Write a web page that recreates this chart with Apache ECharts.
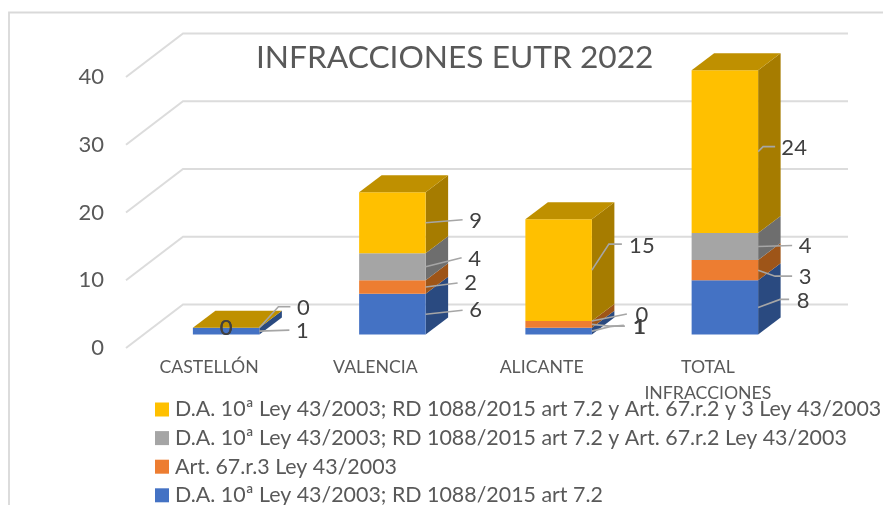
<!DOCTYPE html>
<html>
<head>
<meta charset="utf-8">
<title>INFRACCIONES EUTR 2022</title>
<style>
  html,body {margin:0;padding:0;background:#fff;}
  #chart {width:883px;height:505px;}
</style>
<script src="https://cdn.jsdelivr.net/npm/echarts@6/dist/echarts.min.js"></script>
</head>
<body>
<div id="chart"></div>
<script>
var categories = ['CASTELLÓN', 'VALENCIA', 'ALICANTE', 'TOTAL\nINFRACCIONES'];
var seriesNames = [
  'D.A. 10ª Ley 43/2003; RD 1088/2015 art 7.2',
  'Art. 67.r.3 Ley 43/2003',
  'D.A. 10ª Ley 43/2003; RD 1088/2015 art 7.2 y Art. 67.r.2 Ley 43/2003',
  'D.A. 10ª Ley 43/2003; RD 1088/2015 art 7.2 y Art. 67.r.2 y 3 Ley 43/2003'
];
var blueValues = [1, 6, 1, 8];
var orangeValues = [0, 2, 1, 3];
var grayValues = [0, 4, 0, 4];
var yellowValues = [0, 9, 15, 24];
var yTicks = [0, 10, 20, 30, 40];

// colores de cada cara: frontal, lateral
var frontColors = ['#4472C4', '#ED7D31', '#A5A5A5', '#FFC000'];
var sideColors = ['#2A4A80', '#9E5518', '#6E6E6E', '#A67C00'];
var topColor = '#BF9000';

// perspectiva: pared del fondo y profundidad de la barra
var wallDx = 57, wallDy = -43.5;
var barOffX = 17, barOffY = -13.5;
var barDepthX = 22.5, barDepthY = -17;
var barWidth = 66.5;

// lineas guia de las etiquetas, relativas al centro del tramo en la arista derecha
// [serie][categoria] = {line:[...], text:[dx,dy]}; center = etiqueta centrada en la barra
var leaders = [
  [{line:[[30,-1]],text:[43,0]}, {line:[[37,-4]],text:[50,-4]}, {line:[[20,-5],[33,-5]],text:[47,-4]}, {line:[[22,-8],[31,-8]],text:[45,-6]}],
  [{center:true}, {line:[[32,-4]],text:[45,-4]}, {line:[[20,2],[32,1]],text:[48,3]}, {line:[[17,6],[34,6]],text:[47,7]}],
  [{line:[[19,-21],[31,-21]],text:[44,-20]}, {line:[[36,-9]],text:[49,-8]}, {line:[[35,-7]],text:[50,-6]}, {line:[[34,-1]],text:[47,-1]}],
  [{center:true}, {line:[[37,-3]],text:[50,-2]}, {line:[[17,-26],[30,-26]],text:[50,-24]}, {line:[[5,-5],[17,-5]],text:[36,-4]}]
];

var allValues = [blueValues, orangeValues, grayValues, yellowValues];
var fontName = 'Lato, "Noto Sans", sans-serif';

function stackRows(s) {
  return categories.map(function (c, i) {
    var base = 0;
    for (var k = 0; k < s; k++) base += allValues[k][i];
    return [i, base, base + allValues[s][i]];
  });
}

function renderWall(params, api) {
  var p = api.coord([0, api.value(0)]);
  var grid = params.coordSys;
  var x0 = grid.x, x1 = grid.x + grid.width;
  return {
    type: 'polyline',
    shape: {points: [[x0, p[1]], [x0 + wallDx, p[1] + wallDy], [x1 + wallDx, p[1] + wallDy]]},
    style: {stroke: '#DCDCDC', lineWidth: 2, fill: null}
  };
}

function makeBarRender(s) {
  return function (params, api) {
    var c = api.coord([api.value(0), 0]);
    var low = api.coord([api.value(0), api.value(1)]);
    var high = api.coord([api.value(0), api.value(2)]);
    var xl = c[0] - barWidth / 2 + barOffX, xr = xl + barWidth;
    var yb = low[1] + barOffY, yt = high[1] + barOffY;
    var kids = [];
    kids.push({type: 'polygon', shape: {points: [[xr, yb], [xr + barDepthX, yb + barDepthY], [xr + barDepthX, yt + barDepthY], [xr, yt]]}, style: {fill: sideColors[s]}});
    kids.push({type: 'rect', shape: {x: xl, y: yt, width: barWidth, height: yb - yt}, style: {fill: frontColors[s]}});
    if (s === 3) {
      kids.push({type: 'polygon', shape: {points: [[xl, yt], [xl + barDepthX, yt + barDepthY], [xr + barDepthX, yt + barDepthY], [xr, yt]]}, style: {fill: topColor}});
    }
    return {type: 'group', children: kids};
  };
}

function makeLabelRender(s) {
  return function (params, api) {
    var i = api.value(0);
    var c = api.coord([i, 0]);
    var mid = api.coord([i, (api.value(1) + api.value(2)) / 2]);
    var ax = c[0] - barWidth / 2 + barOffX + barWidth, ay = mid[1] + barOffY;
    var info = leaders[s][i];
    var kids = [];
    var tx, ty;
    if (info.center) {
      tx = c[0] + barOffX;
      ty = ay;
    } else {
      var pts = [[ax, ay]].concat(info.line.map(function (d) { return [ax + d[0], ay + d[1]]; }));
      kids.push({type: 'polyline', shape: {points: pts}, style: {stroke: '#A6A6A6', lineWidth: 1.6, fill: null}});
      tx = ax + info.text[0];
      ty = ay + info.text[1];
    }
    kids.push({type: 'text', style: {x: tx, y: ty, text: String(allValues[s][i]), fill: '#404040', font: '22px ' + fontName, align: 'center', verticalAlign: 'middle'}});
    return {type: 'group', children: kids};
  };
}

var series = [{
  type: 'custom',
  silent: true,
  z: 1,
  renderItem: renderWall,
  encode: {y: 0},
  data: yTicks.map(function (t) { return [t]; })
}];
seriesNames.forEach(function (name, s) {
  series.push({
    name: name,
    type: 'custom',
    z: 2,
    itemStyle: {color: frontColors[s]},
    renderItem: makeBarRender(s),
    encode: {x: 0, y: [1, 2]},
    data: stackRows(s)
  });
});
seriesNames.forEach(function (name, s) {
  series.push({
    type: 'custom',
    silent: true,
    z: 3,
    renderItem: makeLabelRender(s),
    encode: {x: 0, y: [1, 2]},
    data: stackRows(s)
  });
});

var myChart = echarts.init(document.getElementById('chart'), null, {renderer: 'canvas'});
myChart.setOption({
  animation: false,
  backgroundColor: '#fff',
  title: {
    text: 'INFRACCIONES EUTR 2022',
    left: 256,
    top: 42,
    padding: 0,
    textStyle: {color: '#595959', fontFamily: fontName, fontWeight: 'normal', fontSize: 31.7}
  },
  grid: {left: 126, top: 77, width: 665, height: 271},
  xAxis: {
    type: 'category',
    data: categories,
    axisLine: {show: false},
    axisTick: {show: false},
    axisLabel: {color: '#595959', fontFamily: fontName, fontSize: 17.7, lineHeight: 26, margin: 6, interval: 0}
  },
  yAxis: {
    type: 'value',
    min: 0,
    max: 40,
    interval: 10,
    axisLine: {show: false},
    axisTick: {show: false},
    splitLine: {show: false},
    axisLabel: {color: '#595959', fontFamily: fontName, fontSize: 22, margin: 22}
  },
  legend: {
    orient: 'vertical',
    left: 155,
    top: 399,
    height: 130,
    padding: 0,
    itemGap: 7.6,
    itemWidth: 14,
    itemHeight: 14,
    icon: 'rect',
    selectedMode: false,
    data: seriesNames.slice().reverse(),
    textStyle: {color: '#595959', fontFamily: fontName, fontSize: 21.4, padding: [0, 0, 0, 1]}
  },
  graphic: [{
    type: 'rect',
    z: -1,
    shape: {x: 9, y: 12.5, width: 890, height: 520},
    style: {fill: null, stroke: '#D9D9D9', lineWidth: 1.8}
  }],
  series: series
});
</script>
</body>
</html>
